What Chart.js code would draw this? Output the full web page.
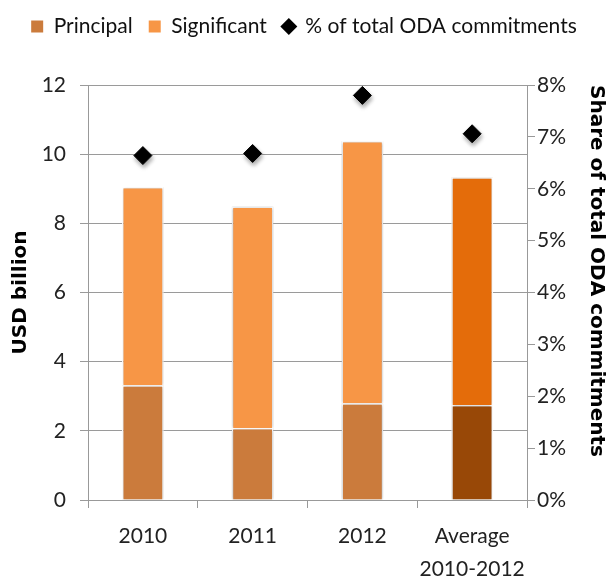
<!DOCTYPE html>
<html>
<head>
<meta charset="utf-8">
<script src="https://cdn.jsdelivr.net/npm/chart.js@4.4.1/dist/chart.umd.min.js"></script>
<style>
  html, body { margin: 0; padding: 0; background: #fff; }
  #wrap { width: 608px; height: 579px; }
</style>
</head>
<body>
<div id="wrap"><canvas id="oda-chart" width="608" height="579"></canvas></div>
<script>
const categories = ['2010', '2011', '2012', ['Average', '2010-2012']];
const principal = [3.32, 2.08, 2.80, 2.75];
const significant = [5.73, 6.41, 7.58, 6.58];
const sharePct = [6.64, 6.68, 7.80, 7.06];

const principalColors = ['#CB7B3C', '#CB7B3C', '#CB7B3C', '#984807'];
const significantColors = ['#F79646', '#F79646', '#F79646', '#E46C0A'];

const tickFont = { family: "Lato, 'Open Sans', sans-serif", size: 21, lineHeight: 1.55 };
const titleFont = { family: "'DejaVu Sans', sans-serif", size: 20, weight: 'bold' };

// soft shadow under bars and diamonds
const shadowPlugin = {
  id: 'shadow',
  beforeDatasetDraw(chart, args) {
    const ctx = chart.ctx;
    ctx.save();
    ctx.shadowColor = 'rgba(0,0,0,0.35)';
    ctx.shadowBlur = args.index === 2 ? 4 : 3;
    ctx.shadowOffsetX = args.index === 2 ? 1 : 0;
    ctx.shadowOffsetY = args.index === 2 ? 3 : 0;
  },
  afterDatasetDraw(chart) {
    chart.ctx.restore();
  }
};

// extra room between legend and plot
const legendGap = {
  id: 'legendGap',
  beforeInit(chart) {
    const fit = chart.legend.fit;
    chart.legend.fit = function () {
      fit.bind(chart.legend)();
      this.height += 38;
    };
  }
};

const ctx = document.getElementById('oda-chart').getContext('2d');
const odaChart = new Chart(ctx, {
  data: {
    labels: categories,
    datasets: [{
      type: 'bar',
      label: 'Principal',
      data: principal,
      backgroundColor: principalColors,
      borderColor: '#fff',
      borderWidth: 1.5,
      barPercentage: 0.76,
      categoryPercentage: 0.5,
      stack: 's',
      order: 2
    }, {
      type: 'bar',
      label: 'Significant',
      data: significant,
      backgroundColor: significantColors,
      borderColor: '#fff',
      borderWidth: 1.5,
      barPercentage: 0.76,
      categoryPercentage: 0.5,
      stack: 's',
      order: 2
    }, {
      type: 'line',
      label: '% of total ODA commitments',
      data: sharePct,
      yAxisID: 'y1',
      showLine: false,
      pointStyle: 'rectRot',
      pointRadius: 9,
      pointBackgroundColor: '#000',
      pointBorderColor: '#000',
      backgroundColor: '#000',
      borderColor: '#000',
      order: 1
    }]
  },
  options: {
    responsive: false,
    animation: false,
    layout: { padding: 0 },
    plugins: {
      legend: {
        position: 'top',
        labels: {
          usePointStyle: true,
          boxWidth: 12,
          boxHeight: 12,
          padding: 16,
          color: '#111',
          font: { family: "Lato, 'Open Sans', sans-serif", size: 21 },
          sort: (a, b) => a.datasetIndex - b.datasetIndex,
          generateLabels(chart) {
            const items = Chart.defaults.plugins.legend.labels.generateLabels(chart);
            items.forEach(it => {
              it.pointStyle = it.datasetIndex === 2 ? 'rectRot' : 'rect';
              it.lineWidth = 0;
              it.strokeStyle = 'transparent';
            });
            return items;
          }
        }
      },
      tooltip: { enabled: false }
    },
    scales: {
      x: {
        stacked: true,
        grid: { drawOnChartArea: false, offset: true, tickLength: 8, color: '#999' },
        border: { color: '#999' },
        ticks: { color: '#222', font: tickFont, padding: 12, autoSkip: false, maxRotation: 0, minRotation: 0 },
        afterFit(scale) { scale.height = 79; }
      },
      y: {
        stacked: true,
        min: 0,
        max: 12,
        ticks: { stepSize: 2, color: '#222', font: tickFont, padding: 14 },
        grid: { color: '#9a9a9a', tickLength: 8 },
        border: { color: '#999' },
        title: { display: true, text: 'USD billion', color: '#000', font: titleFont, padding: { top: 9, bottom: 0 } },
        afterFit(scale) { scale.width = 88; }
      },
      y1: {
        position: 'right',
        min: 0,
        max: 8,
        ticks: { stepSize: 1, color: '#222', font: tickFont, padding: 2, callback: v => v + '%' },
        grid: { drawOnChartArea: false, tickLength: 8, color: '#999' },
        border: { color: '#999' },
        title: { display: true, text: 'Share of total ODA commitments', align: 'end', color: '#000', font: titleFont, padding: { top: 0, bottom: 0 } },
        afterFit(scale) { scale.width = 81; }
      }
    }
  },
  plugins: [shadowPlugin, legendGap]
});
</script>
</body>
</html>
